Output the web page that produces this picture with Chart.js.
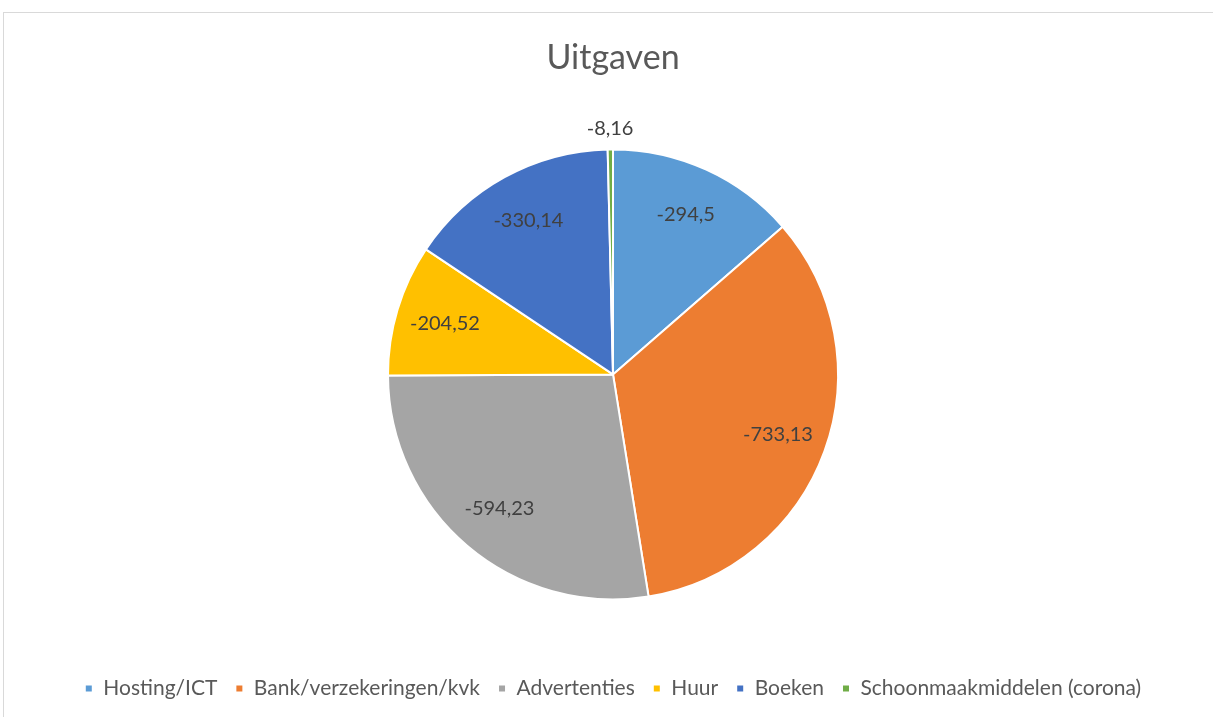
<!DOCTYPE html>
<html lang="nl">
  <head>
    <meta charset="UTF-8" />
    <title>Uitgaven</title>
    <style>
      * { margin: 0; padding: 0; }
      body { background: #fff; width: 1213px; height: 717px; overflow: hidden; position: relative; }
      .frame {
        position: absolute; left: 3px; top: 12px; width: 1220px; height: 720px;
        border: 1px solid #d9d9d9; box-sizing: border-box;
      }
      .chartBox { position: absolute; left: 0; top: 0; width: 1213px; height: 717px; }
    </style>
  </head>
  <body>
    <div class="frame"></div>
    <div class="chartBox"><canvas id="myChart"></canvas></div>

    <script src="https://cdn.jsdelivr.net/npm/chart.js"></script>
    <script>
      // data block
      const categories = ["Hosting/ICT", "Bank/verzekeringen/kvk", "Advertenties", "Huur", "Boeken", "Schoonmaakmiddelen (corona)"];
      const amounts = [-294.5, -733.13, -594.23, -204.52, -330.14, -8.16];
      const sliceColors = ["#5B9BD5", "#ED7D31", "#A5A5A5", "#FFC000", "#4472C4", "#70AD47"];

      const fontFamily = "Lato, 'Open Sans', sans-serif";

      // slice value labels, inside unless the slice is tiny
      const sliceLabels = {
        id: "sliceLabels",
        afterDatasetsDraw(chart) {
          const { ctx } = chart;
          const meta = chart.getDatasetMeta(0);
          const values = chart.data.datasets[0].data;
          ctx.save();
          ctx.font = `20px ${fontFamily}`;
          ctx.fillStyle = "#404040";
          ctx.textAlign = "center";
          ctx.textBaseline = "middle";
          meta.data.forEach((arc, i) => {
            const { x, y, startAngle, endAngle, outerRadius } = arc.getProps(["x", "y", "startAngle", "endAngle", "outerRadius"], true);
            const mid = (startAngle + endAngle) / 2;
            const small = (endAngle - startAngle) < 0.1;
            const r = small ? outerRadius + 21 : outerRadius * 0.78;
            const text = String(values[i]).replace(".", ",");
            ctx.fillText(text, x + Math.cos(mid) * r, y + Math.sin(mid) * r);
          });
          ctx.restore();
        }
      };

      const config = {
        type: "pie",
        data: {
          labels: categories,
          datasets: [{
            data: amounts,
            backgroundColor: sliceColors,
            borderColor: "#ffffff",
            borderWidth: 2
          }]
        },
        options: {
          responsive: true,
          maintainAspectRatio: false,
          animation: false,
          radius: 225,
          layout: { padding: { top: 38, bottom: 8, left: 13, right: 0 } },
          plugins: {
            title: {
              display: true,
              text: "Uitgaven",
              color: "#595959",
              font: { family: fontFamily, size: 34, weight: "normal" },
              padding: { top: 0, bottom: 10 }
            },
            legend: {
              position: "bottom",
              labels: {
                color: "#595959",
                font: { family: fontFamily, size: 21 },
                boxWidth: 8,
                boxHeight: 8,
                padding: 18
              }
            },
            tooltip: { enabled: false }
          }
        },
        plugins: [sliceLabels]
      };

      const myChart = new Chart(document.getElementById("myChart"), config);
    </script>
  </body>
</html>
